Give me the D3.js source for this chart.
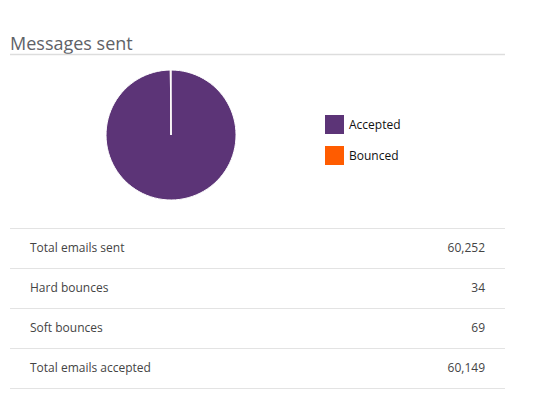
<!DOCTYPE html>
<html><head><meta charset="utf-8">
<script src="https://cdn.jsdelivr.net/npm/d3@7"></script>
<style>body{margin:0;background:#fff;font-family:"Open Sans",sans-serif;}</style>
</head><body><svg id="c" width="534" height="415"></svg>
<script>
const categories = ["Accepted", "Bounced"];
const values = [60149, 103];
const colors = ["#5c3477", "#ff5c00"];
const rowLabels = ["Total emails sent", "Hard bounces", "Soft bounces", "Total emails accepted"];
const rowValues = [60252, 34, 69, 60149];

const svg = d3.select("#c");
svg.append("text").attr("x", 10).attr("y", 50).attr("font-size", 18).attr("fill", "#5f6268").text("Messages sent");
svg.append("line").attr("x1", 10).attr("x2", 505).attr("y1", 54.5).attr("y2", 54.5).attr("stroke", "#ddd").attr("stroke-width", 1.5);

const pie = d3.pie().sort(null).value(d => d)(values);
const arc = d3.arc().innerRadius(0).outerRadius(65);
const g = svg.append("g").attr("transform", "translate(171,135)");
g.selectAll("path").data(pie).join("path").attr("d", arc)
  .attr("fill", (d, i) => colors[i]).attr("stroke", "#fff").attr("stroke-width", 1);

const lg = svg.append("g").attr("transform", "translate(325,115)");
categories.forEach((c, i) => {
  lg.append("rect").attr("x", 0).attr("y", i * 31).attr("width", 19).attr("height", 19).attr("fill", colors[i]);
  lg.append("text").attr("x", 24).attr("y", i * 31 + 14).attr("font-size", 12).attr("fill", "#111").text(c);
});

const y = d3.scaleBand().domain(rowLabels).range([228, 388]);
const fmt = d3.format(",");
rowLabels.forEach((r, i) => {
  const yy = y(r);
  svg.append("line").attr("x1", 10).attr("x2", 505).attr("y1", yy + 0.5).attr("y2", yy + 0.5).attr("stroke", "#e3e3e3");
  svg.append("text").attr("x", 30).attr("y", yy + 24).attr("font-size", 12).attr("fill", "#444").text(r);
  svg.append("text").attr("x", 485).attr("y", yy + 24).attr("font-size", 12).attr("fill", "#444").attr("text-anchor", "end").text(fmt(rowValues[i]));
});
svg.append("line").attr("x1", 10).attr("x2", 505).attr("y1", 388.5).attr("y2", 388.5).attr("stroke", "#e3e3e3");
</script></body></html>
